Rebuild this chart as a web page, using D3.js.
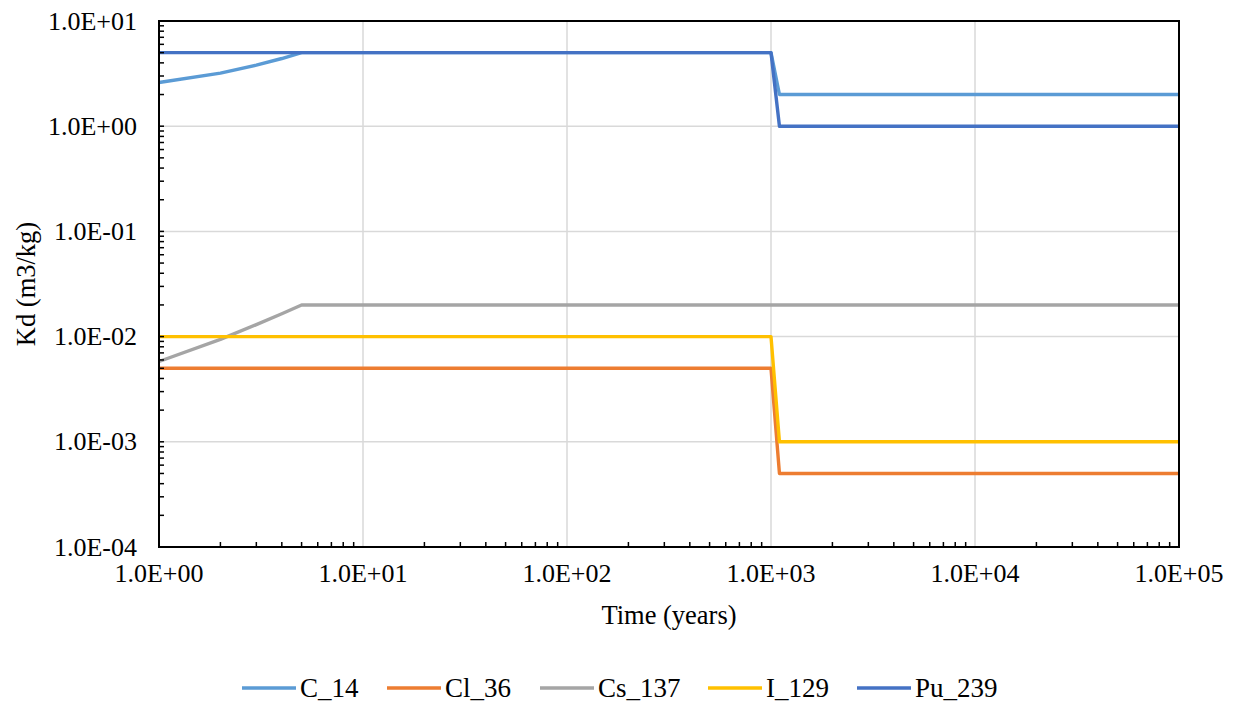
<!DOCTYPE html>
<html>
<head>
<meta charset="utf-8">
<script src="https://cdn.jsdelivr.net/npm/d3@7"></script>
<style>
  body { margin: 0; background: #fff; }
</style>
</head>
<body>
<script>
var width = 1242;
var height = 702;
var serif = '"Liberation Serif", "Times New Roman", serif';

// data
var years = [1, 2, 3, 4, 5, 1000, 1100, 100000];
var names = ['C_14', 'Cl_36', 'Cs_137', 'I_129', 'Pu_239'];
var colors = ['#5B9BD5', '#ED7D31', '#A5A5A5', '#FFC000', '#4472C4'];
var c14 = [2.6, 3.2, 3.8, 4.4, 5, 5, 2, 2];
var cl36 = [0.005, 0.005, 0.005, 0.005, 0.005, 0.005, 0.0005, 0.0005];
var cs137 = [0.0058, 0.0094, 0.013, 0.0165, 0.02, 0.02, 0.02, 0.02];
var i129 = [0.01, 0.01, 0.01, 0.01, 0.01, 0.01, 0.001, 0.001];
var pu239 = [5, 5, 5, 5, 5, 5, 1, 1];
var xTicks = [1, 10, 100, 1000, 10000, 100000];
var yTicks = [1e-4, 1e-3, 1e-2, 1e-1, 1, 10];

var series = [c14, cl36, cs137, i129, pu239];

var svg = d3.select('body').append('svg')
    .attr('width', width)
    .attr('height', height)
    .attr('font-family', serif);

var x = d3.scaleLog().domain([1, 1e5]).range([159, 1179]);
var y = d3.scaleLog().domain([1e-4, 10]).range([547, 21]);

function sci(v) {
    var e = Math.round(Math.log10(v));
    var m = v / Math.pow(10, e);
    return m.toFixed(1) + 'E' + (e < 0 ? '-' : '+') + String(Math.abs(e)).padStart(2, '0');
}

// minor tick values
var minorX = [], minorY = [];
for (var d = 0; d < 5; d++) for (var k = 2; k <= 9; k++) minorX.push(k * Math.pow(10, d));
for (var d = -4; d < 1; d++) for (var k = 2; k <= 9; k++) minorY.push(k * Math.pow(10, d));

// gridlines
svg.append('g').selectAll('line').data(xTicks.slice(1, -1))
    .enter().append('line')
    .attr('x1', x).attr('x2', x)
    .attr('y1', y(1e-4)).attr('y2', y(10))
    .attr('stroke', '#d9d9d9').attr('stroke-width', 1.5);
svg.append('g').selectAll('line').data(yTicks.slice(1, -1))
    .enter().append('line')
    .attr('x1', x(1)).attr('x2', x(1e5))
    .attr('y1', y).attr('y2', y)
    .attr('stroke', '#d9d9d9').attr('stroke-width', 1.5);

// lines
var line = d3.line()
    .x(function(d, i) { return x(years[i]); })
    .y(function(d) { return y(d); });

svg.append('g').selectAll('path').data(series)
    .enter().append('path')
    .attr('d', line)
    .attr('fill', 'none')
    .attr('stroke', function(d, i) { return colors[i]; })
    .attr('stroke-width', 3.4)
    .attr('stroke-linejoin', 'round');

// frame
svg.append('rect')
    .attr('x', x(1)).attr('y', y(10))
    .attr('width', x(1e5) - x(1)).attr('height', y(1e-4) - y(10))
    .attr('fill', 'none').attr('stroke', '#000').attr('stroke-width', 2);

// axes with minor ticks pointing inside
var xAxis = svg.append('g').attr('transform', 'translate(0,' + y(1e-4) + ')');
xAxis.selectAll('line').data(minorX)
    .enter().append('line')
    .attr('x1', x).attr('x2', x)
    .attr('y1', 0).attr('y2', -5)
    .attr('stroke', '#000').attr('stroke-width', 1.5);
xAxis.selectAll('text').data(xTicks)
    .enter().append('text')
    .attr('x', x).attr('y', 35)
    .attr('text-anchor', 'middle')
    .attr('font-family', serif)
    .attr('font-size', 26)
    .text(sci);

var yAxis = svg.append('g').attr('transform', 'translate(' + x(1) + ',0)');
yAxis.selectAll('line').data(minorY.concat(yTicks))
    .enter().append('line')
    .attr('x1', 0).attr('x2', 5)
    .attr('y1', y).attr('y2', y)
    .attr('stroke', '#000').attr('stroke-width', 1.5);
yAxis.selectAll('text').data(yTicks)
    .enter().append('text')
    .attr('x', -22).attr('y', y)
    .attr('dy', '0.33em')
    .attr('text-anchor', 'end')
    .attr('font-family', serif)
    .attr('font-size', 26)
    .text(sci);

// axis titles
svg.append('text')
    .attr('x', (x(1) + x(1e5)) / 2).attr('y', 624)
    .attr('text-anchor', 'middle')
    .attr('font-family', serif)
    .attr('font-size', 26.5)
    .text('Time (years)');
svg.append('text')
    .attr('transform', 'translate(35,' + ((y(1e-4) + y(10)) / 2) + ') rotate(-90)')
    .attr('text-anchor', 'middle')
    .attr('font-family', serif)
    .attr('font-size', 26.5)
    .text('Kd (m3/kg)');

// legend
var legendX = [242, 387, 540, 708, 857];
var legend = svg.append('g').selectAll('g').data(names)
    .enter().append('g')
    .attr('transform', function(d, i) { return 'translate(' + legendX[i] + ',688)'; });
legend.append('line')
    .attr('x1', 0).attr('x2', 54)
    .attr('stroke', function(d, i) { return colors[i]; })
    .attr('stroke-width', 3.4);
legend.append('text')
    .attr('x', 58).attr('dy', '0.35em')
    .attr('font-family', serif)
    .attr('font-size', 27)
    .text(function(d) { return d; });
</script>
</body>
</html>
